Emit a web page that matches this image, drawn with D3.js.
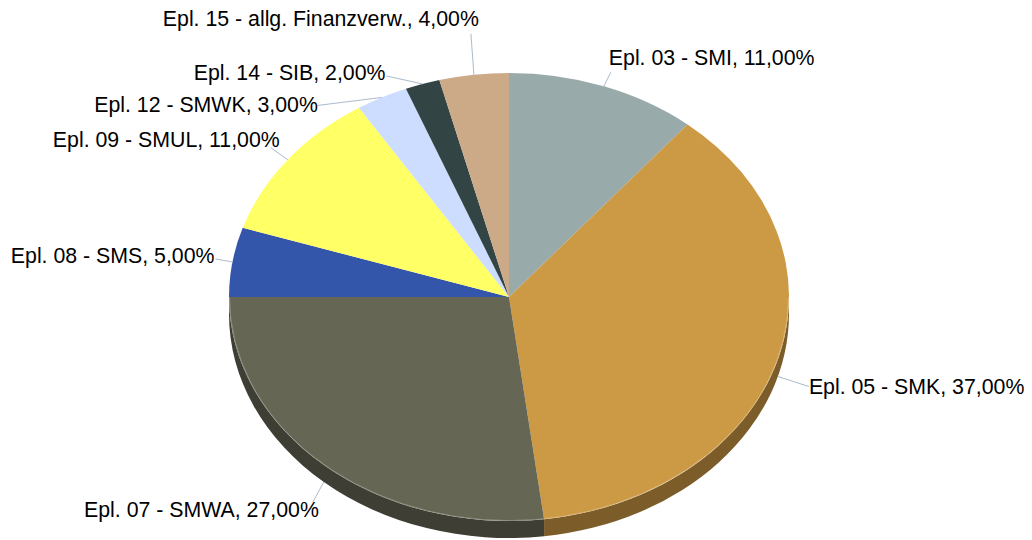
<!DOCTYPE html>
<html>
<head>
<meta charset="utf-8">
<script src="https://cdn.jsdelivr.net/npm/d3@7"></script>
<style>
  html, body { margin: 0; padding: 0; background: #ffffff; }
  svg { display: block; }
</style>
</head>
<body>
<svg id="chart" width="1032" height="540"></svg>
<script>
// ---- Data ----
const categories = [
  "Epl. 03 - SMI",
  "Epl. 05 - SMK",
  "Epl. 07 - SMWA",
  "Epl. 08 - SMS",
  "Epl. 09 - SMUL",
  "Epl. 12 - SMWK",
  "Epl. 14 - SIB",
  "Epl. 15 - allg. Finanzverw."
];
const shares = [11, 37, 27, 5, 11, 3, 2, 4];
const colors = ["#99aaaa", "#cc9944", "#666655", "#3355aa", "#ffff66", "#ccddff", "#334444", "#ccaa88"];

// ---- Label layout (leader line end offset from anchor, text offset from line end) ----
const labelLayout = [
  { lx: 7,   ly: -14, tx: -2, ty: -7, anchor: "start" },
  { lx: 31,  ly: 10,  tx: 0,  ty: 8,  anchor: "start" },
  { lx: -11, ly: 20,  tx: 6,  ty: 15, anchor: "end" },
  { lx: -17, ly: -3,  tx: -1, ty: 4,  anchor: "end" },
  { lx: -17, ly: -12, tx: 9,  ty: -1, anchor: "end" },
  { lx: -64, ly: 8,   tx: 0,  ty: 7,  anchor: "end" },
  { lx: -36, ly: -8,  tx: -1, ty: 4,  anchor: "end" },
  { lx: -3,  ly: -41, tx: 8,  ty: -8, anchor: "end" }
];

// ---- Geometry ----
const cx = 509, cy = 297, rx = 280, ry = 224, depth = 17;
const k = ry / rx;
const D = depth / k;

const svg = d3.select("#chart");
const data = categories.map((c, i) => ({ name: c, value: shares[i], color: colors[i], layout: labelLayout[i] }));

const pie = d3.pie().sort(null).value(d => d.value).startAngle(0).endAngle(2 * Math.PI);
const arcs = pie(data);
const arcGen = d3.arc().innerRadius(0).outerRadius(rx);

const g = svg.append("g").attr("transform", `translate(${cx},${cy}) scale(1,${k})`);

// side walls (visible front half: angles between pi/2 and 3pi/2)
const sideG = g.append("g");
arcs.forEach(a => {
  const s = Math.max(a.startAngle, Math.PI / 2);
  const e = Math.min(a.endAngle, 3 * Math.PI / 2);
  if (e <= s) return;
  const p = d3.path();
  p.moveTo(rx * Math.sin(s), -rx * Math.cos(s));
  p.arc(0, 0, rx, s - Math.PI / 2, e - Math.PI / 2, false);
  p.lineTo(rx * Math.sin(e), -rx * Math.cos(e) + D);
  p.arc(0, D, rx, e - Math.PI / 2, s - Math.PI / 2, true);
  p.closePath();
  sideG.append("path")
    .attr("d", p.toString())
    .attr("fill", d3.color(a.data.color).darker(1.4).formatHex())
    .attr("stroke", "none");
});

// top faces
g.append("g").selectAll("path")
  .data(arcs)
  .join("path")
  .attr("d", arcGen)
  .attr("fill", d => d.data.color)
  .attr("stroke", "none");

// faint highlight at the rim of the front
{
  const p = d3.path();
  p.arc(0, 0, rx - 0.5, 0, Math.PI, false);
  g.append("path").attr("d", p.toString())
    .attr("fill", "none")
    .attr("stroke", "rgba(255,255,255,0.25)")
    .attr("stroke-width", 1)
    .attr("vector-effect", "non-scaling-stroke");
}

// labels
const fmt = v => d3.format(".2f")(v).replace(".", ",") + "%";
const labG = svg.append("g");
arcs.forEach(a => {
  const L = a.data.layout;
  const mid = (a.startAngle + a.endAngle) / 2;
  const ax = cx + rx * Math.sin(mid);
  const ay = cy - ry * Math.cos(mid) + (Math.cos(mid) < 0 ? depth : 0);
  const ex = ax + L.lx, ey = ay + L.ly;
  labG.append("line")
    .attr("x1", ax).attr("y1", ay)
    .attr("x2", ex).attr("y2", ey)
    .attr("stroke", "#aabbcc")
    .attr("stroke-width", 1);
  labG.append("text")
    .attr("x", ex + L.tx)
    .attr("y", ey + L.ty)
    .attr("text-anchor", L.anchor)
    .attr("font-family", "'Liberation Sans', Arial, sans-serif")
    .attr("font-size", 21.3)
    .attr("fill", "#000")
    .text(`${a.data.name}, ${fmt(a.data.value)}`);
});
</script>
</body>
</html>
